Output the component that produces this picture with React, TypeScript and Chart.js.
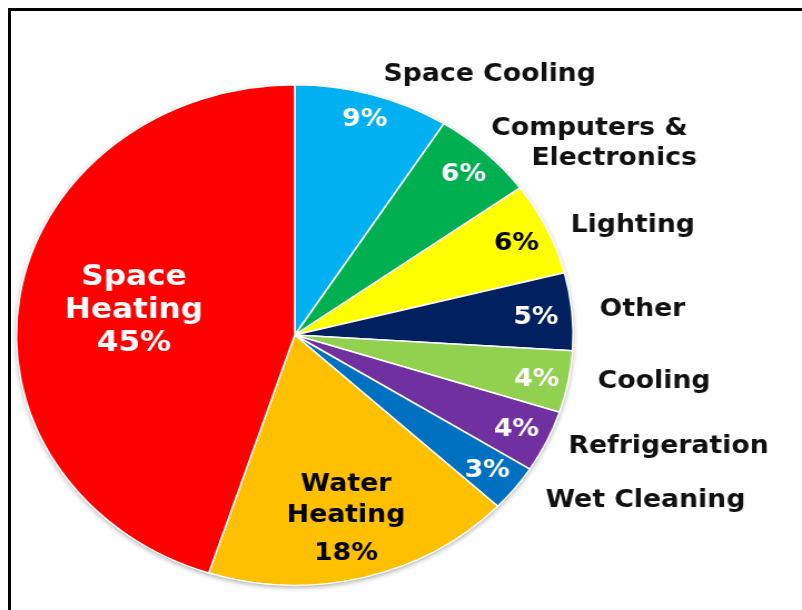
import React, { useEffect, useRef } from 'react';
import { Chart, registerables } from 'chart.js';

Chart.register(...registerables);

// ---- data ----
const categories = [
  'Space Cooling',
  'Computers & Electronics',
  'Lighting',
  'Other',
  'Cooling',
  'Refrigeration',
  'Wet Cleaning',
  'Water Heating',
  'Space Heating',
];
const shares = [9, 6, 6, 5, 4, 4, 3, 18, 45];
const sliceColors = ['#00B0F0', '#00B050', '#FFFF00', '#002060', '#92D050', '#7030A0', '#0070C0', '#FFC000', '#FF0000'];

// label text pieces
const insideNameLines: (string[] | null)[] = [null, null, null, null, null, null, null, ['Water', 'Heating'], ['Space', 'Heating']];
const outsideNameLines: (string[] | null)[] = [
  ['Space Cooling'],
  ['Computers & ', 'Electronics'],
  ['Lighting'],
  ['Other'],
  ['Cooling'],
  ['Refrigeration'],
  ['Wet Cleaning'],
  null,
  null,
];

// ---- label styling ----
const insideTextColors = ['#fff', '#fff', '#000', '#fff', '#fff', '#fff', '#fff', '#000', '#fff'];
const insideRadiusFrac = [0.9, 0.885, 0.88, 0.87, 0.885, 0.88, 0.875, 0.74, 0.585];
const insideFontSize = [24, 24, 24, 24, 24, 24, 24, 24, 28];
const insideLineOffsets: number[][] = [[0], [0], [0], [0], [0], [0], [0], [-31, 0, 38], [-33, 0, 33]];
const insideShift: number[][] = [[0, 1], [0, 1], [0, 3], [0, 3], [0, 3], [0, 1], [0, 2], [0, 1], [0, -1]];
const outsideShift: number[][] = [[3, 4], [173, 2], [-1, 8], [0, 1], [2, -5], [-3, -5], [8, -3], [0, 0], [0, 0]];
const outsideAlign: CanvasTextAlign[] = ['left', 'right', 'left', 'left', 'left', 'left', 'left', 'left', 'left'];
const outsideLineOffsets: number[][] = [[0], [-8, 22], [0], [0], [0], [0], [0], [0], [0]];
const FONT = '"DejaVu Sans", Verdana, sans-serif';

const sliceLabelPlugin = {
  id: 'sliceLabels',
  beforeDatasetsDraw(chart: any) {
    const meta = chart.getDatasetMeta(0);
    const arc = meta.data[0];
    if (!arc) return;
    const { x, y, outerRadius } = arc.getProps(['x', 'y', 'outerRadius'], true);
    const ctx = chart.ctx;
    ctx.save();
    ctx.beginPath();
    ctx.arc(x, y, outerRadius, 0, Math.PI * 2);
    ctx.fillStyle = '#ffffff';
    ctx.shadowColor = 'rgba(0,0,0,0.35)';
    ctx.shadowBlur = 5;
    ctx.shadowOffsetX = 0;
    ctx.shadowOffsetY = 2;
    ctx.fill();
    ctx.restore();
  },
  afterDatasetsDraw(chart: any) {
    const ctx = chart.ctx;
    const meta = chart.getDatasetMeta(0);
    meta.data.forEach((arc: any, i: number) => {
      const { x, y, startAngle, endAngle, outerRadius } = arc.getProps(
        ['x', 'y', 'startAngle', 'endAngle', 'outerRadius'],
        true
      );
      const mid = (startAngle + endAngle) / 2;
      // inside label
      const ri = outerRadius * insideRadiusFrac[i];
      const ix = x + Math.cos(mid) * ri + insideShift[i][0];
      const iy = y + Math.sin(mid) * ri + insideShift[i][1];
      const lines = [...(insideNameLines[i] || []), `${shares[i]}%`];
      ctx.save();
      ctx.fillStyle = insideTextColors[i];
      ctx.font = `bold ${insideFontSize[i]}px ${FONT}`;
      ctx.textAlign = 'center';
      ctx.textBaseline = 'middle';
      lines.forEach((t, k) => ctx.fillText(t, ix, iy + insideLineOffsets[i][k]));
      ctx.restore();
      // outside label
      const out = outsideNameLines[i];
      if (out) {
        const ro = outerRadius + 25;
        const ox = x + Math.cos(mid) * ro + outsideShift[i][0];
        const oy = y + Math.sin(mid) * ro + outsideShift[i][1];
        ctx.save();
        ctx.fillStyle = '#111';
        ctx.font = `bold 24px ${FONT}`;
        ctx.textAlign = outsideAlign[i];
        ctx.textBaseline = 'middle';
        out.forEach((t, k) => ctx.fillText(t, ox, oy + outsideLineOffsets[i][k]));
        ctx.restore();
      }
    });
  },
};

const CANVAS_W = 721;
const CANVAS_H = 610;

export default function App() {
  const ref = useRef<HTMLCanvasElement | null>(null);

  useEffect(() => {
    document.body.style.margin = '0';
    const canvas = ref.current;
    if (!canvas) return;
    const chart = new Chart(canvas, {
      type: 'pie',
      data: {
        labels: categories,
        datasets: [
          {
            data: shares,
            backgroundColor: sliceColors,
            borderColor: '#ffffff',
            borderWidth: 1.5,
          },
        ],
      },
      options: {
        responsive: false,
        animation: false,
        devicePixelRatio: 1,
        layout: { padding: { left: 14, right: 205, top: 84, bottom: 24 } },
        plugins: {
          legend: { display: false },
          tooltip: { enabled: false },
          title: { display: false },
        },
      },
      plugins: [sliceLabelPlugin],
    });
    return () => chart.destroy();
  }, []);

  return (
    <div
      style={{
        position: 'fixed',
        left: 0,
        top: 0,
        width: 802,
        height: 610,
        overflow: 'hidden',
        background: '#fff',
      }}
    >
      <div
        style={{
          position: 'absolute',
          left: 8,
          top: 8,
          width: 1000,
          height: 1000,
          border: '3px solid #000',
        }}
      />
      <canvas
        ref={ref}
        width={CANVAS_W}
        height={CANVAS_H}
        style={{
          position: 'absolute',
          left: 0,
          top: 0,
          width: CANVAS_W,
          height: CANVAS_H,
          transform: `scaleX(${802 / CANVAS_W})`,
          transformOrigin: '0 0',
        }}
      />
    </div>
  );
}
